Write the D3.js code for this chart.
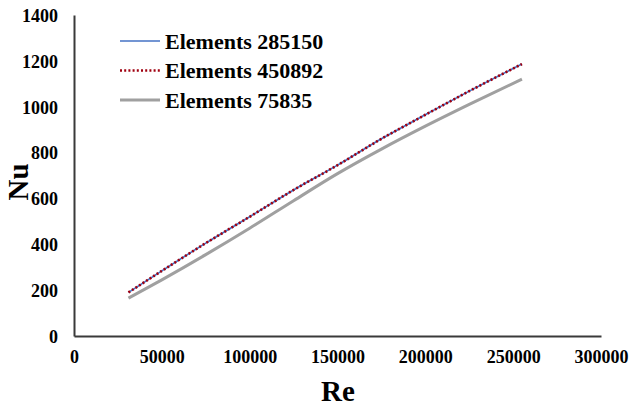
<!DOCTYPE html>
<html><head><meta charset="utf-8">
<script src="https://cdn.jsdelivr.net/npm/d3@7"></script>
<style>body{margin:0;background:#fff}svg{display:block}</style>
</head><body>
<svg id="c" width="630" height="407"></svg>
<script>
const xTicks = [0, 50000, 100000, 150000, 200000, 250000, 300000];
const yTicks = [0, 200, 400, 600, 800, 1000, 1200, 1400];
const re = [31000, 50000, 75000, 100000, 125000, 150000, 175000, 200000, 225000, 255000];
const nu285150 = [190, 284, 405, 520, 637, 745, 860, 965, 1068, 1186];
const nu450892 = [190, 284, 405, 520, 637, 745, 860, 965, 1068, 1186];
const nu75835 = [165, 245, 355, 470, 590, 708, 815, 915, 1010, 1120];
const seriesNames = ["Elements 285150", "Elements 450892", "Elements 75835"];

const svg = d3.select("#c");
const x = d3.scaleLinear().domain([0, 300000]).range([74, 601]);
const y = d3.scaleLinear().domain([0, 1400]).range([336, 15]);
const font = "'Liberation Serif','Times New Roman',serif";

const xAxis = svg.append("g").attr("transform", "translate(0,336)")
  .call(d3.axisBottom(x).tickValues(xTicks).tickSize(0).tickPadding(14).tickFormat(d3.format("d")));
const yAxis = svg.append("g").attr("transform", "translate(74,0)")
  .call(d3.axisLeft(y).tickValues(yTicks).tickSize(0).tickPadding(16).tickFormat(d3.format("d")));
[xAxis, yAxis].forEach(a => {
  a.select(".domain").attr("stroke", "#3a3a3a").attr("stroke-width", 2);
  a.selectAll("text").attr("font-family", font).attr("font-weight", "bold")
    .attr("font-size", 18).attr("fill", "#000");
});
yAxis.selectAll("text").attr("dy", "0.35em");

const line = d3.line().x((d, i) => x(re[i])).y(d => y(d)).curve(d3.curveMonotoneX);
const styles = [
  {data: nu75835, stroke: "#a0a0a0", w: 3, dash: null},
  {data: nu285150, stroke: "#4472c4", w: 1.6, dash: null},
  {data: nu450892, stroke: "#a00010", w: 2.6, dash: "2,2.2"}
];
styles.forEach(s => {
  svg.append("path").attr("d", line(s.data)).attr("fill", "none")
    .attr("stroke", s.stroke).attr("stroke-width", s.w)
    .attr("stroke-dasharray", s.dash);
});

// legend
const leg = [
  {name: seriesNames[0], stroke: "#4472c4", w: 1.6, dash: null},
  {name: seriesNames[1], stroke: "#a00010", w: 2.6, dash: "2,2.2"},
  {name: seriesNames[2], stroke: "#a0a0a0", w: 3, dash: null}
];
leg.forEach((l, i) => {
  const yy = 41 + i * 29.5;
  svg.append("line").attr("x1", 120).attr("x2", 160).attr("y1", yy).attr("y2", yy)
    .attr("stroke", l.stroke).attr("stroke-width", l.w).attr("stroke-dasharray", l.dash);
  svg.append("text").attr("x", 165).attr("y", yy).attr("dy", "0.35em")
    .attr("font-family", font).attr("font-weight", "bold").attr("font-size", 22)
    .text(l.name);
});

svg.append("text").attr("x", 338).attr("y", 401).attr("text-anchor", "middle")
  .attr("font-family", font).attr("font-weight", "bold").attr("font-size", 29).text("Re");
svg.append("text").attr("transform", "translate(28,182) rotate(-90)").attr("text-anchor", "middle")
  .attr("font-family", font).attr("font-weight", "bold").attr("font-size", 29).text("Nu");
</script>
</body></html>
